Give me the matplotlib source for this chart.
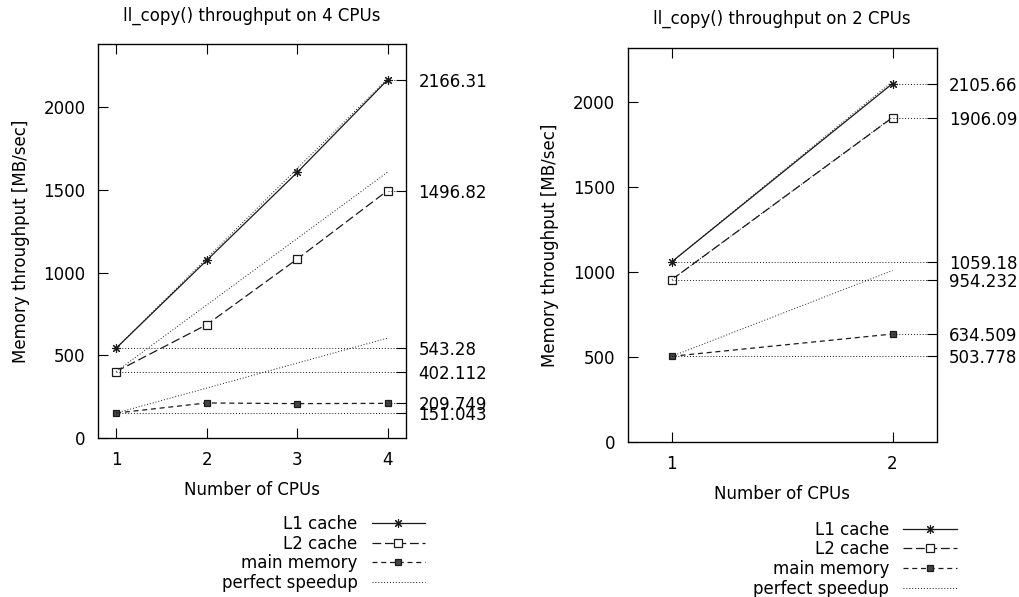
import matplotlib
matplotlib.use('Agg')
from matplotlib import pyplot as plt

# ll_copy() throughput, 4 CPU machine
cpus_4 = [1, 2, 3, 4]
l1_4 = [543.28, 1074, 1606, 2166.31]
l2_4 = [402.112, 685, 1082, 1496.82]
mem_4 = [151.043, 212, 208, 209.749]

# ll_copy() throughput, 2 CPU machine
cpus_2 = [1, 2]
l1_2 = [1059.18, 2105.66]
l2_2 = [954.232, 1906.09]
mem_2 = [503.778, 634.509]

# perfect speedup lines (1 CPU value -> N times that at N CPUs)
speedup_x_4 = [1, 4]
speedup_l1_4 = [543.28, 2173.12]
speedup_l2_4 = [402.112, 1608.45]
speedup_mem_4 = [151.043, 604.17]
speedup_x_2 = [1, 2]
speedup_l1_2 = [1059.18, 2118.36]
speedup_l2_2 = [954.232, 1908.46]
speedup_mem_2 = [503.778, 1007.56]

labels = ['L1 cache', 'L2 cache', 'main memory', 'perfect speedup']

plt.rcParams['font.family'] = 'DejaVu Sans'
plt.rcParams['font.size'] = 12

INK = '#1a1a1a'
DOT = (0, (1, 2))


def draw(ax, x, l1, l2, mem, sx, s1, s2, s3, xlim, title):
	ymax = max(l1) * 1.1
	lines = []
	lines.append(ax.plot(x, l1, color=INK, lw=0.9, marker=(8, 2, 0), ms=6.5, mew=0.8)[0])
	lines.append(ax.plot(x, l2, color=INK, lw=0.9, ls=(0, (7, 3)), marker='s', ms=5.5,
		mfc='white', mec=INK, mew=0.9)[0])
	lines.append(ax.plot(x, mem, color=INK, lw=0.9, ls=(0, (4, 3)), marker='s', ms=5,
		mfc='#444444', mec=INK, mew=0.9)[0])
	for s in (s1, s2, s3):
		p = ax.plot(sx, s, color=INK, lw=0.7, ls=DOT)[0]
	lines.append(p)

	# dotted guides from first and last values to the right border
	for series in (l1, l2, mem):
		ax.plot([x[0], xlim[1]], [series[0]] * 2, color=INK, lw=0.7, ls=DOT)
		ax.plot([x[-1], xlim[1]], [series[-1]] * 2, color=INK, lw=0.7, ls=DOT)

	ax.set_xlim(*xlim)
	ax.set_ylim(0, ymax)
	ax.set_xticks(x)
	ax.set_yticks(range(0, 2001, 500))
	ax.tick_params(direction='in', length=7, width=0.8, top=True, right=True, pad=9)
	ax.set_title(title, fontsize=12, pad=17)
	ax.set_xlabel('Number of CPUs', labelpad=9)
	ax.set_ylabel('Memory throughput [MB/sec]', labelpad=10)
	for sp in ax.spines.values():
		sp.set_linewidth(0.9)

	ax2 = ax.twinx()
	ax2.set_ylim(0, ymax)
	vals = [l1[-1], l2[-1], mem[-1], l1[0], l2[0], mem[0]]
	ax2.set_yticks(vals)
	ax2.set_yticklabels(['%g' % v for v in vals])
	ax2.tick_params(direction='in', length=7, width=0.8, pad=9)
	return lines


fig = plt.figure(figsize=(10.2, 5.97), dpi=100)
ax_a = fig.add_axes([0.0961, 0.2663, 0.3017, 0.66])
ax_b = fig.add_axes([0.6154, 0.2596, 0.3029, 0.6604])

h_a = draw(ax_a, cpus_4, l1_4, l2_4, mem_4, speedup_x_4, speedup_l1_4, speedup_l2_4,
	speedup_mem_4, (0.8, 4.2), 'll_copy() throughput on 4 CPUs')
h_b = draw(ax_b, cpus_2, l1_2, l2_2, mem_2, speedup_x_2, speedup_l1_2, speedup_l2_2,
	speedup_mem_2, (0.8, 2.2), 'll_copy() throughput on 2 CPUs')

for h, anchor in ((h_a, (0.4167, 0.1374)), (h_b, (0.938, 0.128))):
	fig.legend(h, labels, loc='upper right', bbox_to_anchor=anchor, markerfirst=False,
		frameon=False, handlelength=3.2, handletextpad=0.85, labelspacing=0.1,
		borderpad=0, borderaxespad=0, numpoints=1, fontsize=12)

fig.savefig('out.png', dpi=100)
